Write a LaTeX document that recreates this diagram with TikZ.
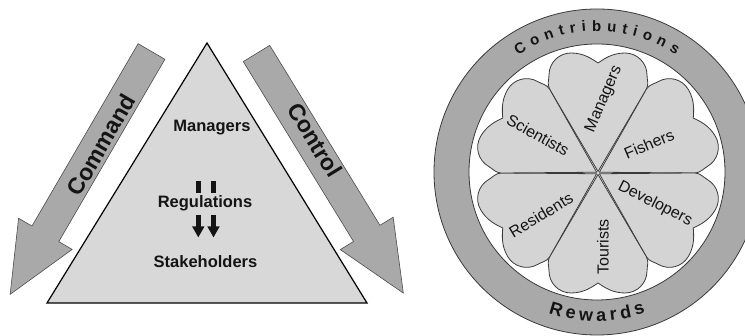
\documentclass[tikz,border=0pt]{standalone}
\usepackage{fontspec}
\newfontfamily\arial{Liberation Sans}
\usetikzlibrary{arrows.meta,decorations.text,calc}
\definecolor{trigray}{HTML}{D8D8D8}
\definecolor{arrgray}{HTML}{A9A9A9}
\definecolor{petgray}{HTML}{D4D4D4}
\definecolor{edgegray}{HTML}{3A3A3A}
\definecolor{inkc}{HTML}{141414}
\begin{document}
\begin{tikzpicture}[x=1pt,y=1pt,
  lbl/.style={font=\arial\bfseries\fontsize{16.5}{18}\selectfont, text=inkc, inner sep=0pt},
  biglbl/.style={font=\arial\bfseries\fontsize{23}{25}\selectfont, text=inkc, inner sep=0pt},
  petlbl/.style={font=\arial\fontsize{16}{18}\selectfont, text=inkc, inner sep=0pt},
  bigarrow/.style={fill=arrgray, draw=black!70, line width=0.6pt},
  petal/.style={fill=petgray, draw=edgegray, line width=0.8pt},
  regbar/.style={line width=4.5pt, inkc},
]
\clip (0,0) rectangle (745,336);
\fill[white] (0,0) rectangle (745,336);

% ---------- left: triangle ----------
\draw[fill=trigray, line width=1.2pt] (207,293) -- (47,33) -- (367,33) -- cycle;

\begin{scope}[shift={(151.5,284.5)}, rotate=239.8]
  \draw[bigarrow] (0,-15.5) -- (211,-15.5) -- (211,-31) -- (281,0) -- (211,31) -- (211,15.5) -- (0,15.5) -- cycle;
\end{scope}
\begin{scope}[shift={(256.5,282.5)}, rotate=301.5]
  \draw[bigarrow] (0,-15.5) -- (211,-15.5) -- (211,-31) -- (281,0) -- (211,31) -- (211,15.5) -- (0,15.5) -- cycle;
\end{scope}

\node[biglbl, rotate=59.8] (command) at (101,191) {Command};
\node[biglbl, rotate=-58.5] (control) at (315,196) {Control};

\node[lbl] (tmanagers) at (212,208.5) {Managers};
\node[lbl] (regulations) at (205,133) {Regulations};
\node[lbl] (stakeholders) at (205.5,74.5) {Stakeholders};

\coordinate (b1top) at (198.3,154.5);
\coordinate (b1bot) at (198.3,143);
\coordinate (b2top) at (213.5,154.5);
\coordinate (b2bot) at (213.5,143);
\coordinate (a1top) at (198.3,121);
\coordinate (a1tip) at (198.3,98.5);
\coordinate (a2top) at (213.5,121);
\coordinate (a2tip) at (213.5,98.5);
\draw[regbar] (b1top) -- (b1bot);
\draw[regbar] (b2top) -- (b2bot);
\draw[regbar, -{Triangle[length=11pt,width=11.5pt]}] (a1top) -- (a1tip);
\draw[regbar, -{Triangle[length=11pt,width=11.5pt]}] (a2top) -- (a2tip);

% ---------- right: ring ----------
\coordinate (C) at (597,164);
\coordinate (F) at (598,163);
\fill[arrgray, even odd rule] (C) circle[radius=163] (C) circle[radius=128];
\draw[edgegray, line width=0.8pt] (C) circle[radius=163] (C) circle[radius=128];

\path[decorate, decoration={text along path,
   text={|\arial\bfseries\fontsize{15}{15}\selectfont\color{inkc}|Contributions},
   text align={fit to path}}]
   ($(C)+(124:141)$) arc[start angle=124, end angle=56, radius=141];
\path[decorate, decoration={text along path,
   text={|\arial\bfseries\fontsize{18}{18}\selectfont\color{inkc}|Rewards},
   text align={fit to path}}]
   ($(C)+(251:149)$) arc[start angle=251, end angle=289, radius=149];

% petals
\foreach \a in {90,30,-30,-90,-150,150} {
  \begin{scope}[shift={(F)}, rotate=\a]
    \draw[petal] (1.5,0) -- (84,48.5) .. controls (89,51) and (93,49) .. (98,49)
      .. controls (110.15,49) and (120,39.15) .. (120,27)
      .. controls (120,14) and (114,6) .. (110,0)
      .. controls (114,-6) and (120,-14) .. (120,-27)
      .. controls (120,-39.15) and (110.15,-49) .. (98,-49)
      .. controls (93,-49) and (89,-51) .. (84,-48.5) -- cycle;
  \end{scope}
}

\node[petlbl, rotate=67] (pmanagers) at (604,237) {Managers};
\node[petlbl, rotate=-29.5] (scientists) at (538,201) {Scientists};
\node[petlbl, rotate=23] (fishers) at (649,192) {Fishers};
\node[petlbl, rotate=-27] (developers) at (655,132) {Developers};
\node[petlbl, rotate=90] (tourists) at (603,89) {Tourists};
\node[petlbl, rotate=31] (residents) at (541,121) {Residents};
\end{tikzpicture}
\end{document}
